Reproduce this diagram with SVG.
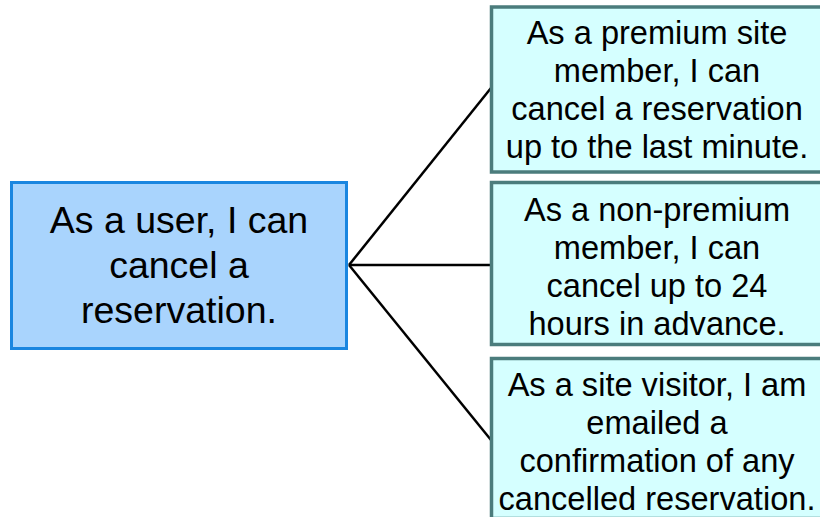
<svg xmlns="http://www.w3.org/2000/svg" width="820" height="517" viewBox="0 0 820 517">
  <style>
    .root { fill: #a9d4fd; stroke: #1a86e0; stroke-width: 3; }
    .leaf { fill: #d5ffff; stroke: #4b7c7c; stroke-width: 3.5; }
    .t { font-family: "Liberation Sans", Arial, sans-serif; fill: #000; text-anchor: middle; }
    .big { font-size: 37.5px; }
    .small { font-size: 32.6px; }
    .link { stroke: #000; stroke-width: 2.5; fill: none; }
  </style>
  <rect x="0" y="0" width="820" height="517" fill="#ffffff"/>

  <!-- connectors from the parent story to each child -->
  <g id="connectors">
    <line class="link" x1="349" y1="265" x2="491" y2="88"/>
    <line class="link" x1="349" y1="265" x2="491" y2="265"/>
    <line class="link" x1="349" y1="265" x2="491" y2="440"/>
  </g>

  <g id="node-user">
    <rect class="root" x="11.5" y="182.5" width="335" height="166"/>
    <text class="t big" x="179" y="233">As a user, I can</text>
    <text class="t big" x="179" y="278">cancel a</text>
    <text class="t big" x="179" y="323">reservation.</text>
  </g>

  <g id="node-premium">
    <rect class="leaf" x="491.5" y="7" width="332" height="165"/>
    <text class="t small" x="657" y="44">As a premium site</text>
    <text class="t small" x="657" y="82">member, I can</text>
    <text class="t small" x="657" y="120">cancel a reservation</text>
    <text class="t small" x="657" y="158">up to the last minute.</text>
  </g>

  <g id="node-nonpremium">
    <rect class="leaf" x="491.5" y="182.5" width="332" height="162"/>
    <text class="t small" x="657" y="221">As a non-premium</text>
    <text class="t small" x="657" y="259">member, I can</text>
    <text class="t small" x="657" y="297">cancel up to 24</text>
    <text class="t small" x="657" y="335">hours in advance.</text>
  </g>

  <g id="node-visitor">
    <rect class="leaf" x="491.5" y="358.5" width="332" height="160"/>
    <text class="t small" x="657" y="396">As a site visitor, I am</text>
    <text class="t small" x="657" y="434">emailed a</text>
    <text class="t small" x="657" y="472">confirmation of any</text>
    <text class="t small" x="657" y="510">cancelled reservation.</text>
  </g>
</svg>
